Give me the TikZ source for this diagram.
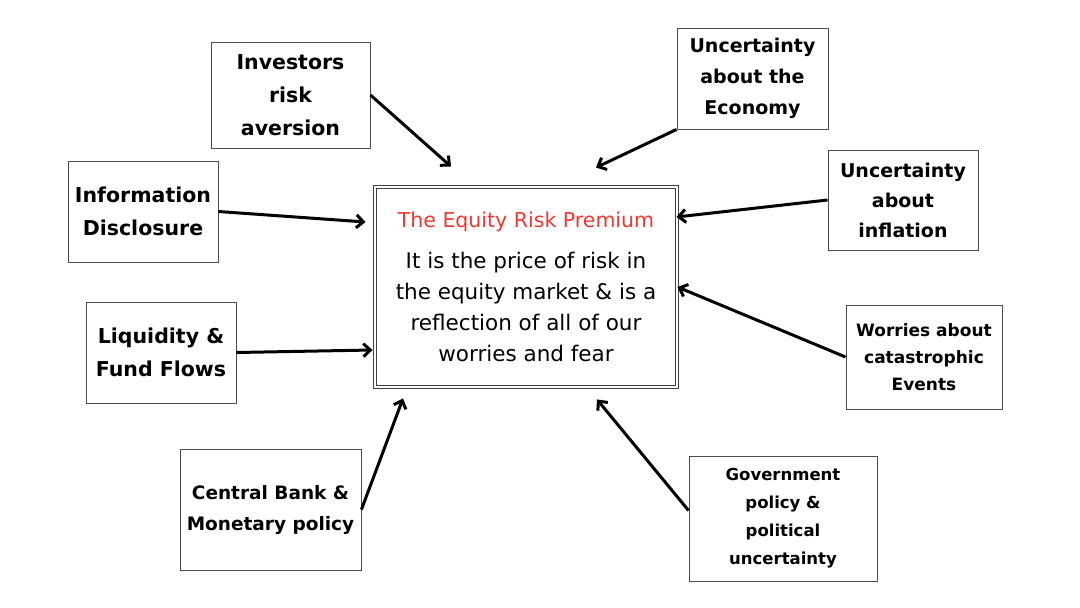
\documentclass[tikz,border=0pt]{standalone}
\usepackage{fontspec}
\setmainfont{DejaVu Sans}
\usepackage{xcolor}
\usetikzlibrary{arrows.meta,positioning}

\definecolor{erpred}{RGB}{238,58,48}

\begin{document}
\begin{tikzpicture}[x=1pt, y=-1pt, >={Straight Barb[length=7pt,width=13pt]},
		factor/.style 2 args={draw=black!70, line width=0.9pt, align=center, inner sep=0pt,
			font=\bfseries\fontsize{#1}{#2}\selectfont},
		premium/.style={draw=black!75, line width=0.9pt, double=white, double distance=2.4pt,
			align=center, inner sep=0pt, font=\fontsize{21.5}{31}\selectfont},
		push/.style={->, line width=3pt}]
		\useasboundingbox (0,0) rectangle (1080,608);

		\node[premium, minimum width=302pt, minimum height=200pt] (erp) at (526,287)
			{\textcolor{erpred}{\fontsize{20.5}{31}\selectfont The Equity Risk Premium}\\[10pt]
			 It is the price of risk in\\the equity market \& is a\\reflection of all of our\\worries and fear};

		\node[factor={20.5}{33}, minimum width=159pt, minimum height=106pt] (inv) at (290.5,95) {Investors\\risk\\aversion};
		\node[factor={20.5}{33}, minimum width=150pt, minimum height=101pt] (info) at (143,211.5) {Information\\Disclosure};
		\node[factor={20.5}{33}, minimum width=150pt, minimum height=101pt] (liq) at (161,352.5) {Liquidity \&\\Fund Flows};
		\node[factor={18.5}{31}, minimum width=181pt, minimum height=121pt] (cb) at (270.5,509.5) {Central Bank \&\\Monetary policy};

		\node[factor={19}{31}, minimum width=151pt, minimum height=101pt] (econ) at (752.5,78.5) {Uncertainty\\about the\\Economy};
		\node[factor={19}{30}, minimum width=150pt, minimum height=100pt] (infl) at (903,200) {Uncertainty\\about\\inflation};
		\node[factor={17}{27}, minimum width=156pt, minimum height=104pt] (wor) at (924,357) {Worries about\\catastrophic\\Events};
		\node[factor={16.5}{28}, minimum width=188pt, minimum height=125pt] (gov) at (783,518.5) {Government\\policy \&\\political\\uncertainty};

		% arrow tips stop short of the premium box
		\coordinate (tInv) at ([xshift=-75pt,yshift=20pt]erp.north);
		\coordinate (tInfo) at ([xshift=-9pt,yshift=65pt]erp.west);
		\coordinate (tLiq) at ([xshift=-2pt,yshift=-63pt]erp.west);
		\coordinate (tCb) at ([xshift=-123pt,yshift=-11pt]erp.south);
		\coordinate (tEcon) at ([xshift=70pt,yshift=19pt]erp.north);
		\coordinate (tInfl) at ([xshift=-1pt,yshift=70pt]erp.east);
		\coordinate (tGov) at ([xshift=71pt,yshift=-12pt]erp.south);

		\draw[push] (inv.east) -- (tInv);
		\draw[push] (info.east) -- (tInfo);
		\draw[push] (liq.east) -- (tLiq);
		\draw[push] (cb.east) -- (tCb);
		\draw[push] (econ.south west) -- (tEcon);
		\draw[push] (infl.west) -- (tInfl);
		\draw[push] (wor.west) -- (erp.east);
		\draw[push] ([yshift=8pt]gov.west) -- (tGov);
	\end{tikzpicture}
\end{document}
